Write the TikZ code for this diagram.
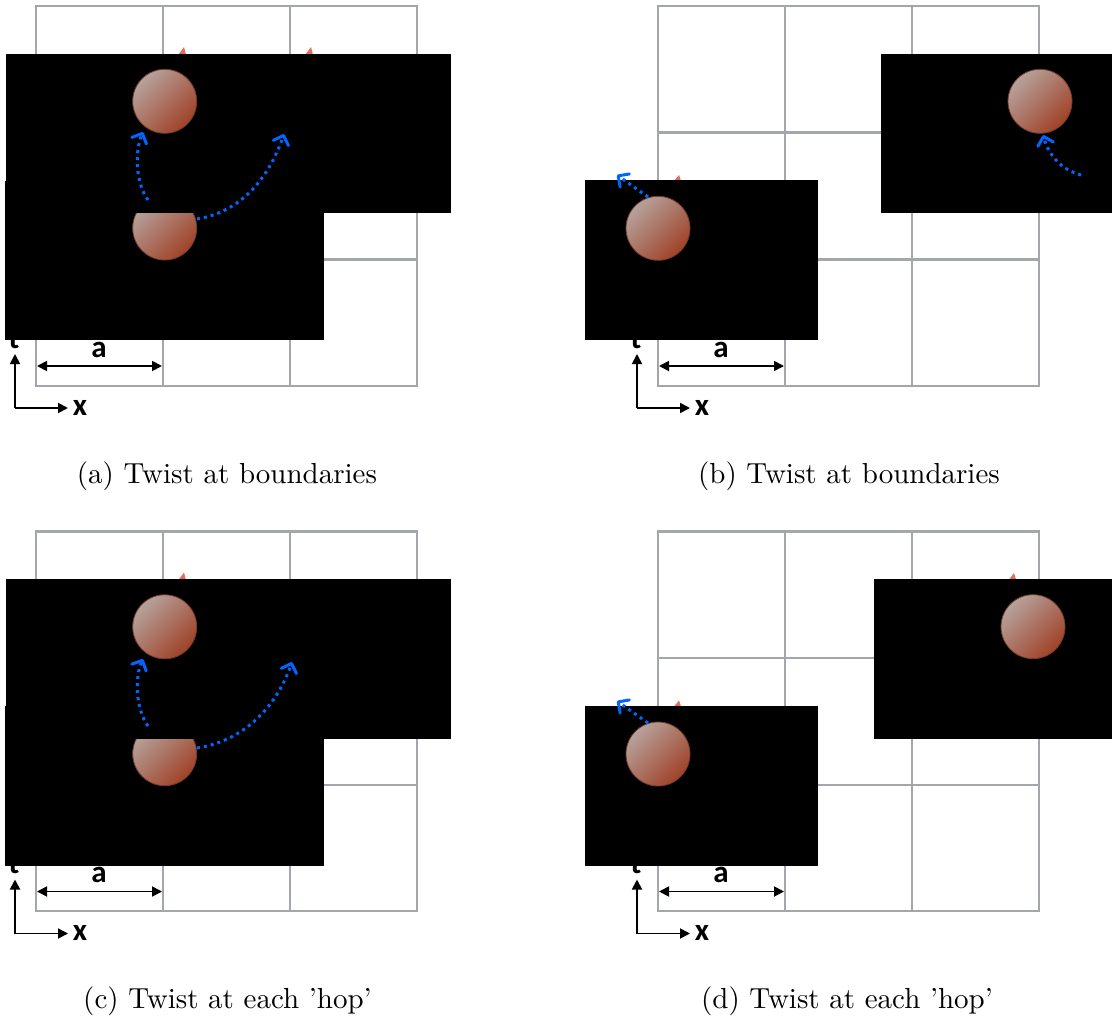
\documentclass[tikz,border=0pt]{standalone}
\usepackage{fontspec}
\newfontfamily\labfont{Carlito}
\usetikzlibrary{arrows.meta}
\definecolor{gridgray}{RGB}{163,166,171}
\definecolor{ballA}{RGB}{182,162,156}
\definecolor{ballB}{RGB}{160,66,40}
\definecolor{ballrim}{RGB}{115,60,45}
\definecolor{hopblue}{RGB}{0,102,255}
\definecolor{tipred}{RGB}{226,112,84}
\tikzset{
  gridline/.style={draw=gridgray, line width=2.4pt},
  blackbox/.style={fill=black},
  ballshade/.style={shading=axis, top color=ballA, bottom color=ballB, shading angle=45, draw=ballrim, line width=0.8pt},
  hoparrow/.style={hopblue, line width=3pt, dash pattern=on 3pt off 4pt, -{Straight Barb[length=8pt,width=16pt,line width=3pt,round]}},
  dimarrow/.style={black, line width=1.8pt, {Triangle[length=10pt,width=10pt]}-{Triangle[length=10pt,width=10pt]}},
  axisarrow/.style={black, line width=1.8pt, -{Triangle[length=10pt,width=10pt]}},
  labtext/.style={font=\labfont\bfseries\fontsize{31}{36}\selectfont, inner sep=0pt, anchor=base},
  captext/.style={font=\fontsize{10}{12}\selectfont, scale=2.9, inner sep=0pt, anchor=base},
  redtip/.style={fill=tipred},
}
\begin{document}
\begin{tikzpicture}[x=1pt,y=-1pt]
\useasboundingbox (0,0) rectangle (1112,1022);
\fill[white] (0,0) rectangle (1112,1022);

% ================= panel (a) =================
\draw[gridline] (36,6) rectangle (417,385.7);
\draw[gridline] (163,6) -- (163,385.7) (290,6) -- (290,385.7)
                (36,132.7) -- (417,132.7) (36,259.3) -- (417,259.3);
\node[labtext] (ta) at (14,348) {t};
\coordinate (oa) at (15,408);
\coordinate (tya) at (15,354);
\coordinate (txa) at (68,408);
\draw[axisarrow] (oa) -- (tya);
\draw[axisarrow] (oa) -- (txa);
\node[labtext] (xa) at (80,415) {x};
\node[labtext] (aa) at (99,357) {a};
\coordinate (dla) at (37,366);
\coordinate (dra) at (162,366);
\draw[dimarrow] (dla) -- (dra);
\fill[redtip] (178,55) -- (184,47) -- (186,55) -- cycle;
\fill[redtip] (305,55) -- (311,47) -- (313,55) -- cycle;
\fill[blackbox] (5,181) rectangle (324,340);
\shade[ballshade] (164.7,228) circle[radius=32];
\fill[blackbox] (6,54) rectangle (451,212.7);
\shade[ballshade] (164.7,101.3) circle[radius=32];
\coordinate (a1s) at (148,200);
\coordinate (a1e) at (143,132);
\coordinate (a2s) at (197,219);
\coordinate (a2e) at (284,134);
\draw[hoparrow] (a1s) .. controls (135,182) and (135,150) .. (a1e);
\draw[hoparrow] (a2s) .. controls (240,212) and (268,180) .. (a2e);
\node[captext] (capa) at (227,483) {(a) Twist at boundaries};

% ================= panel (b) =================
\draw[gridline] (658,6) rectangle (1039,385.7);
\draw[gridline] (785,6) -- (785,385.7) (912,6) -- (912,385.7)
                (658,132.7) -- (1039,132.7) (658,259.3) -- (1039,259.3);
\node[labtext] (tb) at (636,348) {t};
\coordinate (ob) at (637,408);
\coordinate (tyb) at (637,354);
\coordinate (txb) at (690,408);
\draw[axisarrow] (ob) -- (tyb);
\draw[axisarrow] (ob) -- (txb);
\node[labtext] (xb) at (702,415) {x};
\node[labtext] (ab) at (721,357) {a};
\coordinate (dlb) at (659,366);
\coordinate (drb) at (784,366);
\draw[dimarrow] (dlb) -- (drb);
\fill[redtip] (674,181) -- (679,175) -- (681,181) -- cycle;
\fill[blackbox] (585,180) rectangle (817.5,340);
\shade[ballshade] (658,228.3) circle[radius=32];
\coordinate (b1s) at (648,197);
\coordinate (b1e) at (617,175);
\draw[hoparrow] (b1s) -- (b1e);
\fill[blackbox] (881,54) rectangle (1112,212.7);
\shade[ballshade] (1040,101.3) circle[radius=32];
\coordinate (b2s) at (1081,175);
\coordinate (b2e) at (1043,135);
\draw[hoparrow] (b2s) .. controls (1062,170) and (1049,156) .. (b2e);
\node[captext] (capb) at (849,483) {(b) Twist at boundaries};

% ================= panel (c) =================
\draw[gridline] (36,531.5) rectangle (417,911.2);
\draw[gridline] (163,531.5) -- (163,911.2) (290,531.5) -- (290,911.2)
                (36,658.2) -- (417,658.2) (36,784.8) -- (417,784.8);
\node[labtext] (tc) at (14,873.5) {t};
\coordinate (oc) at (15,933.5);
\coordinate (tyc) at (15,879.5);
\coordinate (txc) at (68,933.5);
\draw[axisarrow] (oc) -- (tyc);
\draw[axisarrow] (oc) -- (txc);
\node[labtext] (xc) at (80,940.5) {x};
\node[labtext] (ac) at (99,882.5) {a};
\coordinate (dlc) at (37,891.5);
\coordinate (drc) at (162,891.5);
\draw[dimarrow] (dlc) -- (drc);
\fill[redtip] (178,580.5) -- (184,572.5) -- (186,580.5) -- cycle;
\fill[blackbox] (5,706) rectangle (324,866);
\shade[ballshade] (164.7,753.7) circle[radius=32];
\fill[blackbox] (6,579) rectangle (451,739);
\shade[ballshade] (164.7,626.8) circle[radius=32];
\coordinate (c1s) at (148,726);
\coordinate (c1e) at (143,659);
\coordinate (c2s) at (197,748);
\coordinate (c2e) at (292,662);
\draw[hoparrow] (c1s) .. controls (135,708) and (135,676) .. (c1e);
\draw[hoparrow] (c2s) .. controls (243,741) and (276,708) .. (c2e);
\node[captext] (capc) at (227.5,1008) {(c) Twist at each 'hop'};

% ================= panel (d) =================
\draw[gridline] (658,531.5) rectangle (1039,911.2);
\draw[gridline] (785,531.5) -- (785,911.2) (912,531.5) -- (912,911.2)
                (658,658.2) -- (1039,658.2) (658,784.8) -- (1039,784.8);
\node[labtext] (td) at (636,873.5) {t};
\coordinate (od) at (637,933.5);
\coordinate (tyd) at (637,879.5);
\coordinate (txd) at (690,933.5);
\draw[axisarrow] (od) -- (tyd);
\draw[axisarrow] (od) -- (txd);
\node[labtext] (xd) at (702,940.5) {x};
\node[labtext] (ad) at (721,882.5) {a};
\coordinate (dld) at (659,891.5);
\coordinate (drd) at (784,891.5);
\draw[dimarrow] (dld) -- (drd);
\fill[redtip] (674,706.5) -- (679,700.5) -- (681,706.5) -- cycle;
\fill[redtip] (1009,579.5) -- (1014,573) -- (1016,579.5) -- cycle;
\fill[blackbox] (585,706) rectangle (817.5,866);
\shade[ballshade] (658,754) circle[radius=32];
\coordinate (d1s) at (648,723);
\coordinate (d1e) at (617,701);
\draw[hoparrow] (d1s) -- (d1e);
\fill[blackbox] (874,579) rectangle (1112,739);
\shade[ballshade] (1033,626.7) circle[radius=32];
\node[captext] (capd) at (847,1008) {(d) Twist at each 'hop'};
\end{tikzpicture}
\end{document}
